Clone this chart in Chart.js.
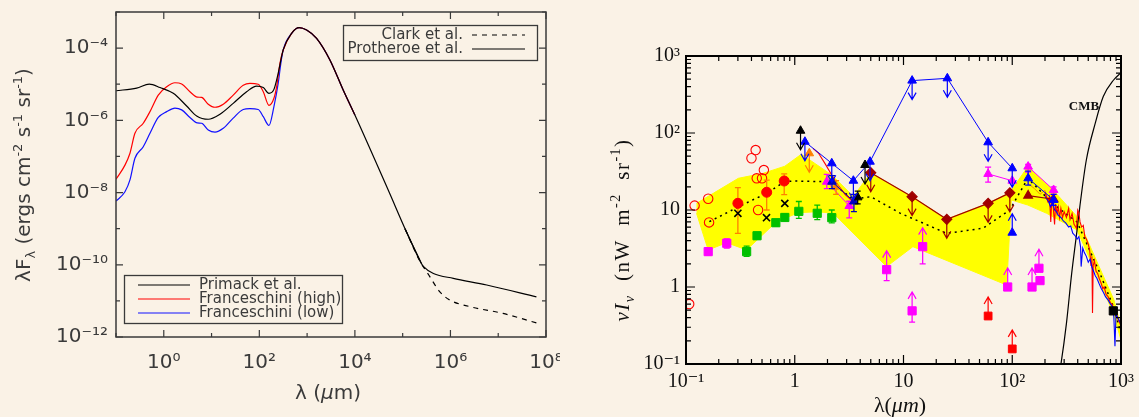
<!DOCTYPE html>
<html><head><meta charset="utf-8">
<script src="https://cdn.jsdelivr.net/npm/chart.js@4.4.1/dist/chart.umd.min.js"></script>
<style>
html,body{margin:0;padding:0;background:#FAF2E6;}
#wrap{position:relative;width:1139px;height:417px;overflow:hidden;background:#FAF2E6;}
#c1{position:absolute;left:0;top:0;}
#c2{position:absolute;left:560px;top:0;}
</style></head><body>
<div id="wrap"><canvas id="c1" width="560" height="417"></canvas><canvas id="c2" width="579" height="417"></canvas></div>
<script>
// ================= LEFT PANEL DATA =================
const leftXTicks = [0.1,1,10,100,1e3,1e4,1e5,1e6,1e7,1e8];
const leftYTicks = [1e-12,1e-11,1e-10,1e-9,1e-8,1e-7,1e-6,1e-5,1e-4,1e-3];

const primackLam = [0.1,0.271,0.498,0.834,1.58,3.01,4.88,8.53,15.0,28.4,54.2,87.9,121,159,202,248,316,474,684,977,1580,3000,5690,1e4,5.25e4,1.12e5,2.45e5];
const primackVal = [6.6e-6,7.8e-6,1.0e-5,8.1e-6,5.6e-6,2.5e-6,1.32e-6,1.07e-6,1.48e-6,2.95e-6,6.2e-6,8.9e-6,8.1e-6,5.6e-6,7.2e-6,2.0e-5,8.9e-5,2.57e-4,3.7e-4,3.16e-4,1.86e-4,4.7e-5,6.9e-6,1.4e-6,1.0e-8,1.0e-9,1.1e-10];

const fraHighLam = [0.1,0.154,0.196,0.249,0.372,0.514,0.767,1.15,1.71,2.37,3.53,5.02,6.21,8.53,11.8,17.6,28.4,46,63.5,94.8,121,159,202,230,270,316,474,684,977,1580,3000,5690,1e4];
const fraHighVal = [2.34e-8,5.75e-8,1.23e-7,4.37e-7,8.3e-7,1.74e-6,5.0e-6,8.5e-6,1.1e-5,1.02e-5,6.2e-6,4.4e-6,4.3e-6,2.8e-6,2.3e-6,2.8e-6,5.0e-6,9.3e-6,1.05e-5,1.0e-5,6.2e-6,2.6e-6,4.1e-6,8.5e-6,3.8e-5,8.9e-5,2.57e-4,3.7e-4,3.16e-4,1.86e-4,4.7e-5,6.9e-6,1.4e-6];

const fraLowLam = [0.1,0.154,0.196,0.249,0.372,0.514,0.767,1.15,1.71,2.37,3.53,5.02,6.21,8.53,11.8,17.6,28.4,46,63.5,94.8,121,159,202,248,282,316,474,684,977,1580,3000,5690,1e4];
const fraLowVal = [5.8e-9,1.05e-8,2.24e-8,8.9e-8,1.86e-7,4.37e-7,1.2e-6,1.74e-6,2.19e-6,1.95e-6,1.2e-6,8.5e-7,8.3e-7,5.4e-7,4.7e-7,6.0e-7,1.15e-6,2.0e-6,2.1e-6,2.0e-6,1.26e-6,7.2e-7,2.4e-6,1.05e-5,3.8e-5,8.9e-5,2.57e-4,3.7e-4,3.16e-4,1.86e-4,4.7e-5,6.9e-6,1.4e-6];

const protheroeLam = [1.12e5,2.45e5,2.7e5,4.4e5,1.15e6,5.75e6,6.3e7];
const protheroeVal = [1.0e-9,1.1e-10,9.0e-11,5.75e-11,4.2e-11,2.75e-11,1.29e-11];
const clarkLam = [1.12e5,2.2e5,3.7e5,6.0e5,9.8e5,2.6e6,1.26e7,6.3e7];
const clarkVal = [1.0e-9,1.4e-10,4.7e-11,1.78e-11,1.05e-11,6.9e-12,4.5e-12,2.45e-12];

// ================= RIGHT PANEL DATA =================
const rightXTicks = [0.1,1,10,100,1000];
const rightYTicks = [0.1,1,10,100,1000];

const bandUpLam = [0.125,0.303,0.514,0.81,1.15,2.19,3.46,5.0,12,25,60,95,139,237,394,629,861,1000];
const bandUpVal = [12.2,25.8,30,37,53,28.5,15,30.5,14.9,7.6,12.2,16.8,36.6,18.2,8.2,1.84,0.68,0.305];
const bandLoLam = [0.125,0.16,0.237,0.361,0.68,1.08,1.59,2.26,7.0,12.2,89,98,139,207,394,629,861,1000];
const bandLoVal = [9.06,3.03,3.76,3.03,7.05,9.2,9.5,9.1,1.84,3.34,1.06,13.5,11.6,9.06,5.5,1.23,0.43,0.205];

const modelLam = [0.164,0.303,0.552,0.81,0.97,2.1,3.46,5.0,9.3,25,54,95,139,237,394,629,861,1000];
const modelVal = [7.05,11.0,16.5,23.3,23.8,23.3,13.8,14.9,9.1,4.97,5.8,10,25.8,12,7,1.6,0.53,0.25];

const openCircLam = [0.107,0.12,0.16,0.163,0.40,0.437,0.447,0.46,0.50,0.52];
const openCircVal = [0.6,11.4,14.0,6.9,47,60,25.8,10,25.8,33];

const redDotLam = [0.30,0.552,0.80];
const redDotVal = [12.2,17,23.8];
const redDotLo = [4.97,10,15.8];
const redDotHi = [19.5,24.5,29.4];

const crossLam = [0.30,0.55,0.81];
const crossVal = [9.06,7.95,12.2];

const greenLam = [0.361,0.45,0.67,0.81,1.09,1.61,2.19];
const greenVal = [2.88,4.63,6.84,8.0,9.6,9.06,7.95];
const greenLo = [2.5,4.2,6.2,7.3,7.8,7.5,6.8];
const greenHi = [3.4,5.1,7.5,8.9,12.9,11.6,10.0];

const magSqLam = [0.16,0.237,180];
const magSqVal = [2.88,3.7,1.21];
const magSqLo = [2.6,3.2,null];
const magSqHi = [3.2,4.2,null];

const magLimLam = [7.0,12.0,15.0,90.8,152,176];
const magLimVal = [1.68,0.49,3.34,1.0,1.0,1.75];
const magLimLo = [1.21,0.35,2.0,null,null,null];

const redSqLam = [60,100];
const redSqVal = [0.42,0.157];

const blackSqLam = [850];
const blackSqVal = [0.49];

const blueLimLam = [1.24,2.19,3.46,4.92,12.0,25.3,60,100];
const blueLimVal = [77,40.4,24,42.4,479,513,75.7,34.8];

const blueNirLam = [2.2,3.5];
const blueNirVal = [23.3,12.9];
const blueNirLo = [19,9.5];
const blueNirHi = [28,16];

const blueFirLam = [140,240];
const blueFirVal = [25.8,13.5];
const blueFirLo = [21,11.5];
const blueFirHi = [32,16];

const blueLowLam = [100];
const blueLowVal = [5.07];

const magTriNirLam = [1.97,3.17];
const magTriNirVal = [23.3,11.3];
const magTriNirLo = [19,7.9];
const magTriNirHi = [29,13];

const magTriMidLam = [60,100];
const magTriMidVal = [29.4,24];
const magTriMidLo = [23,null];
const magTriMidHi = [36,null];

const magTriFirLam = [140,240];
const magTriFirVal = [36.6,18.2];
const magTriFirLo = [31,16];
const magTriFirHi = [39,20];

const brownLam = [5.0,12,25,60,95];
const brownVal = [30.5,14.9,7.57,12.2,16.7];
const brownTriLam = [140,240];
const brownTriVal = [15.4,13.8];

const blackLimLam = [1.13,4.43];
const blackLimVal = [107,38.4];
const blackTriLam = [3.79];
const blackTriVal = [14.6];
const blackTriLo = [12];
const blackTriHi = [17.6];

const orangeLimLam = [1.36];
const orangeLimVal = [54.5];
const orangeTriLam = [2.4];
const orangeTriVal = [20.1];
const orangeTriLo = [16];
const orangeTriHi = [24];

const redLineLam = [1.47,1.65,1.9,2.2,2.5,2.9,3.5];
const redLineVal = [63,55,40,28,21,16,12.5];

const firasRedLam = [200,212,220,226,231,238,245,250,258,265,272,280,290,300,315,330,340,355,370,390,400,410,420,435,450,465,480,500,515,530,540,547,555,570,590,610,630,660,680,700,730,760,800,830,860,900,950,1000];
const firasRedVal = [17,13,15,7,14,11,6.5,12,9,11,8,10.5,8,9.5,8,10.5,7.5,9,6.5,5.8,10,9.2,7,6,6.3,4.5,4.2,3.6,3.0,1.9,2.5,0.46,1.9,2.2,1.6,1.5,1.3,1.1,0.95,1.0,0.8,0.75,0.62,0.6,0.5,0.45,0.37,0.31];
const firasBlueLam = [200,215,225,235,245,255,265,280,295,310,330,345,360,380,395,410,425,430,445,460,480,500,520,540,560,580,600,630,660,690,720,760,800,840,860,880,900,950,1000];
const firasBlueVal = [15,13,11,12.5,10,9.5,8.5,8,7.2,6.8,6,6.2,5,4.6,4.2,4.5,3.3,1.84,3.2,2.8,2.5,2.1,2.3,1.8,1.6,1.4,1.3,1.1,0.95,0.85,0.75,0.68,0.6,0.55,0.4,0.17,0.45,0.38,0.33];
const firasOrangeLam = [140,160,180,200,215,230];
const firasOrangeVal = [22,19,16,18,13,15];

const cmbLam = [268,281,315,352,391,418,480,580,687,855,1000];
const cmbVal = [0.07,0.102,0.337,1.5,4.97,11,44.6,134,297,488,607];

// ================= HELPERS =================
const BG = '#FAF2E6';
const FAM_L = '"DejaVu Sans", sans-serif';
const FAM_R = '"Liberation Serif", "DejaVu Serif", serif';
const SUP = {'-':'\u207B','0':'\u2070','1':'\u00B9','2':'\u00B2','3':'\u00B3','4':'\u2074','5':'\u2075','6':'\u2076','7':'\u2077','8':'\u2078','9':'\u2079'};
function supStr(n){ return String(n).split('').map(c=>SUP[c]).join(''); }
function zip(a,b){ return a.map((v,i)=>({x:v,y:b[i]})); }
function expOf(v){ return Math.round(Math.log10(v)); }

function segFont(s, size, fam){
  const sz = (s.sub||s.sup) ? Math.round(size*0.66) : size;
  return (s.it?'italic ':'') + (s.b?'bold ':'') + sz + 'px ' + fam;
}
function richWidth(ctx, segs, size, fam){
  let w = 0; for (const s of segs){ ctx.font = segFont(s,size,fam); w += ctx.measureText(s.t).width; } return w;
}
function drawRich(ctx, segs, x, y, size, fam, align){
  const w = richWidth(ctx, segs, size, fam);
  let cx = align==='center' ? x - w/2 : (align==='right' ? x - w : x);
  ctx.textAlign = 'left'; ctx.textBaseline = 'alphabetic';
  for (const s of segs){
    ctx.font = segFont(s,size,fam);
    const dy = s.sup ? -size*0.42 : (s.sub ? size*0.24 : 0);
    ctx.fillText(s.t, cx, y+dy);
    cx += ctx.measureText(s.t).width;
  }
}

const framePlugin = {
  id: 'frame',
  afterDatasetsDraw(chart, args, o){
    const {ctx, chartArea: a} = chart; const sx = chart.scales.x, sy = chart.scales.y;
    ctx.save();
    ctx.strokeStyle = o.color; ctx.lineWidth = o.tickWidth; ctx.beginPath();
    const xt = (o.xMinor||[]).map(v=>[v,o.minorLen]).concat(sx.ticks.map(t=>[t.value, t.label ? o.majorLen : o.minorLen]));
    for (const [v,l] of xt){
      const p = sx.getPixelForValue(v); if (p < a.left-1 || p > a.right+1) continue;
      ctx.moveTo(p,a.bottom); ctx.lineTo(p,a.bottom-l); ctx.moveTo(p,a.top); ctx.lineTo(p,a.top+l);
    }
    const yt = (o.yMinor||[]).map(v=>[v,o.minorLen]).concat(sy.ticks.map(t=>[t.value, t.label ? o.majorLen : o.minorLen]));
    for (const [v,l] of yt){
      const p = sy.getPixelForValue(v); if (p < a.top-1 || p > a.bottom+1) continue;
      ctx.moveTo(a.left,p); ctx.lineTo(a.left+l,p); ctx.moveTo(a.right,p); ctx.lineTo(a.right-l,p);
    }
    ctx.stroke();
    ctx.lineWidth = o.width;
    ctx.strokeRect(a.left, a.top, a.right-a.left, a.bottom-a.top);
    ctx.restore();
  }
};

// error bars & limit arrows
const marksPlugin = {
  id: 'marks',
  beforeDatasetDraw(chart, args){
    const ds = chart.data.datasets[args.index]; const meta = args.meta;
    const ctx = chart.ctx; const sy = chart.scales.y;
    ctx.save();
    if (ds.errLo){
      ctx.strokeStyle = ds.errColor || ds.borderColor; ctx.lineWidth = 1.3; ctx.beginPath();
      meta.data.forEach((pt,i)=>{
        const lo = ds.errLo[i], hi = ds.errHi ? ds.errHi[i] : null;
        if (lo == null && hi == null) return;
        const ylo = lo == null ? pt.y : sy.getPixelForValue(lo);
        const yhi = hi == null ? pt.y : sy.getPixelForValue(hi);
        ctx.moveTo(pt.x, ylo); ctx.lineTo(pt.x, yhi);
        if (lo != null){ ctx.moveTo(pt.x-3, ylo); ctx.lineTo(pt.x+3, ylo); }
        if (hi != null){ ctx.moveTo(pt.x-3, yhi); ctx.lineTo(pt.x+3, yhi); }
      });
      ctx.stroke();
    }
    if (ds.arrow){
      const dir = ds.arrow === 'down' ? 1 : -1; const L = 19;
      ctx.strokeStyle = ds.arrowColor || ds.borderColor; ctx.lineWidth = 1.2; ctx.beginPath();
      meta.data.forEach(pt=>{
        const tip = pt.y + dir*L;
        ctx.moveTo(pt.x, pt.y); ctx.lineTo(pt.x, tip);
        ctx.moveTo(pt.x-4, tip-dir*7); ctx.lineTo(pt.x, tip); ctx.lineTo(pt.x+4, tip-dir*7);
      });
      ctx.stroke();
    }
    ctx.restore();
  }
};

Chart.defaults.animation = false;
Chart.defaults.responsive = false;
Chart.defaults.devicePixelRatio = 1;
Chart.defaults.plugins.legend.display = false;
Chart.defaults.plugins.tooltip.enabled = false;

function withOrder(list){ list.forEach((d,i)=>{ d.order = -i; }); return list; }

// ================= LEFT CHART =================
const leftAnnot = {
  id: 'leftAnnot',
  afterDraw(chart){
    const ctx = chart.ctx; ctx.save();
    ctx.fillStyle = '#3a3a3a';
    // y title
    ctx.save(); ctx.translate(30, 175); ctx.rotate(-Math.PI/2);
    drawRich(ctx, [{t:'\u03BBF'},{t:'\u03BB',sub:1},{t:' (ergs cm'},{t:'-2',sup:1},{t:' s'},{t:'-1',sup:1},{t:' sr'},{t:'-1',sup:1},{t:')'}], 0, 0, 20, FAM_L, 'center');
    ctx.restore();
    // x title
    drawRich(ctx, [{t:'\u03BB ('},{t:'\u03BC',it:1},{t:'m)'}], 328, 399, 20, FAM_L, 'center');
    // legends
    const ds = chart.data.datasets;
    const byLabel = l => ds.find(d=>d.label===l);
    ctx.strokeStyle = '#3a3a3a'; ctx.lineWidth = 1.3;
    ctx.strokeRect(343.5, 25.5, 194, 35);
    ctx.strokeRect(124.5, 275.5, 218, 48);
    ctx.font = '15px ' + FAM_L; ctx.textBaseline = 'middle';
    ctx.textAlign = 'right';
    [['Clark et al.',35],['Protheroe et al.',49]].forEach(([lab,y])=>{
      const d = byLabel(lab);
      ctx.fillText(lab, 463, y);
      ctx.save(); ctx.strokeStyle = d.borderColor; ctx.lineWidth = 1.2; ctx.setLineDash(d.borderDash||[]);
      ctx.beginPath(); ctx.moveTo(472,y); ctx.lineTo(525,y); ctx.stroke(); ctx.restore();
    });
    ctx.textAlign = 'left';
    [['Primack et al.',285],['Franceschini (high)',299],['Franceschini (low)',313]].forEach(([lab,y])=>{
      const d = byLabel(lab);
      ctx.fillText(lab, 199, y);
      ctx.save(); ctx.strokeStyle = d.borderColor; ctx.lineWidth = 1.2;
      ctx.beginPath(); ctx.moveTo(138,y); ctx.lineTo(190,y); ctx.stroke(); ctx.restore();
    });
    ctx.restore();
  }
};

const lineDs = (label, lam, val, color, extra) => Object.assign({
  label, data: zip(lam, val), showLine: true, borderColor: color, backgroundColor: color,
  borderWidth: 1.2, pointRadius: 0, cubicInterpolationMode: 'monotone'
}, extra||{});

new Chart(document.getElementById('c1'), {
  type: 'scatter',
  data: { datasets: withOrder([
    lineDs('Franceschini (low)', fraLowLam, fraLowVal, '#1010FF'),
    lineDs('Franceschini (high)', fraHighLam, fraHighVal, '#FF0000'),
    lineDs('Clark et al.', clarkLam, clarkVal, '#000000', {borderDash:[5,5]}),
    lineDs('Protheroe et al.', protheroeLam, protheroeVal, '#000000'),
    lineDs('Primack et al.', primackLam, primackVal, '#000000')
  ]) },
  options: {
    layout: { padding: { left: 0, right: 14, top: 12, bottom: 0 } },
    scales: {
      x: { type: 'logarithmic', position: 'bottom', min: 0.1, max: 1e8,
        afterBuildTicks: s => { s.ticks = leftXTicks.map(v=>({value:v})); },
        afterFit: s => { s.height = 80; s.paddingLeft = 0; s.paddingRight = 0; },
        grid: { display: false, drawTicks: false }, border: { display: false },
        ticks: { autoSkip: false, maxRotation: 0, padding: 14, color: '#3a3a3a', font: { family: FAM_L, size: 20 },
          callback: v => { const e = expOf(v); return e % 2 === 0 ? '10' + supStr(e) : ''; } } },
      y: { type: 'logarithmic', position: 'left', min: 1e-12, max: 1e-3,
        afterBuildTicks: s => { s.ticks = leftYTicks.map(v=>({value:v})); },
        afterFit: s => { s.width = 116; s.paddingTop = 0; s.paddingBottom = 0; },
        grid: { display: false, drawTicks: false }, border: { display: false },
        ticks: { autoSkip: false, padding: 8, color: '#3a3a3a', font: { family: FAM_L, size: 20 },
          callback: v => { const e = expOf(v); return e % 2 === 0 ? '10' + supStr(e) : ''; } } }
    },
    plugins: { frame: { color: '#3a3a3a', width: 1.5, tickWidth: 1.2, majorLen: 7, minorLen: 4 } }
  },
  plugins: [framePlugin, leftAnnot]
});

// ================= RIGHT CHART =================
const rightXMinor = [], rightYMinor = [];
rightXTicks.slice(0,-1).forEach(d=>{ for (let k=2;k<=9;k++) rightXMinor.push(k*d); });
rightYTicks.slice(0,-1).forEach(d=>{ for (let k=2;k<=9;k++) rightYMinor.push(k*d); });

const rightAnnot = {
  id: 'rightAnnot',
  afterDraw(chart){
    const ctx = chart.ctx; ctx.save(); ctx.fillStyle = '#111';
    ctx.save(); ctx.translate(69, 230); ctx.rotate(-Math.PI/2);
    ctx.letterSpacing = '1.5px';
    drawRich(ctx, [{t:'\u03BD',it:1},{t:'I',it:1},{t:'\u03BD',it:1,sub:1},{t:'  (nW  m'},{t:'-2',sup:1},{t:'  sr'},{t:'-1',sup:1},{t:')'}], 0, 0, 21, FAM_R, 'center');
    ctx.restore();
    ctx.letterSpacing = '0px';
    drawRich(ctx, [{t:'\u03BB('},{t:'\u03BC',it:1},{t:'m',it:1},{t:')'}], 340, 412, 22, FAM_R, 'center');
    ctx.font = 'bold 13px ' + FAM_R; ctx.textAlign = 'center'; ctx.textBaseline = 'middle';
    ctx.fillText('CMB', 524, 107);
    ctx.restore();
  }
};

const pts = (lam, val, style, color, extra) => Object.assign({
  data: zip(lam, val), showLine: false, pointStyle: style, pointRadius: 5,
  borderColor: color, backgroundColor: color, pointBorderWidth: 1
}, extra||{});
const ln = (lam, val, color, width, extra) => Object.assign({
  data: zip(lam, val), showLine: true, borderColor: color, backgroundColor: color, borderWidth: width, pointRadius: 0
}, extra||{});

const polygon = zip(bandUpLam, bandUpVal).concat(zip(bandLoLam, bandLoVal).reverse());

new Chart(document.getElementById('c2'), {
  type: 'scatter',
  data: { datasets: withOrder([
    { data: polygon, showLine: true, fill: 'shape', backgroundColor: '#FFFF00', borderColor: '#FFFF00', borderWidth: 1, pointRadius: 0 },
    ln(cmbLam, cmbVal, '#000000', 1.2, {cubicInterpolationMode:'monotone'}),
    ln(modelLam, modelVal, '#000000', 1.5, {borderDash:[2,4]}),
    ln(firasOrangeLam, firasOrangeVal, '#FF8C00', 1),
    ln(firasRedLam, firasRedVal, '#FF0000', 1.1),
    ln(firasBlueLam, firasBlueVal, '#0000FF', 1.1),
    ln(redLineLam, redLineVal, '#FF0000', 1.1),
    pts(openCircLam, openCircVal, 'circle', '#FF0000', {backgroundColor:'rgba(0,0,0,0)', pointRadius:4.7, pointBorderWidth:1.1}),
    pts(greenLam, greenVal, 'rect', '#00C000', {pointRadius:5.8, errLo:greenLo, errHi:greenHi}),
    pts(magSqLam, magSqVal, 'rect', '#FF00FF', {pointRadius:5.8, errLo:magSqLo, errHi:magSqHi}),
    pts(magLimLam, magLimVal, 'rect', '#FF00FF', {pointRadius:5.8, errLo:magLimLo, arrow:'up'}),
    pts(redSqLam, redSqVal, 'rect', '#FF0000', {pointRadius:5.5, arrow:'up'}),
    pts(blackSqLam, blackSqVal, 'rect', '#000000', {pointRadius:5.8}),
    pts(redDotLam, redDotVal, 'circle', '#FF0000', {pointRadius:5, errLo:redDotLo, errHi:redDotHi, errColor:'#FF8000'}),
    pts(crossLam, crossVal, 'crossRot', '#000000', {pointRadius:5, pointBorderWidth:1.6}),
    ln(brownLam, brownVal, '#A00000', 1.2, {pointStyle:'rectRot', pointRadius:5, arrow:'down'}),
    ln(brownTriLam, brownTriVal, '#A00000', 1.2, {pointStyle:'triangle', pointRadius:5}),
    ln(magTriNirLam, magTriNirVal, '#FF00FF', 1, {pointStyle:'triangle', pointRadius:5, errLo:magTriNirLo, errHi:magTriNirHi}),
    ln(magTriMidLam, magTriMidVal, '#FF00FF', 1, {pointStyle:'triangle', pointRadius:5, errLo:magTriMidLo, errHi:magTriMidHi}),
    ln(magTriFirLam, magTriFirVal, '#FF00FF', 1, {pointStyle:'triangle', pointRadius:5, errLo:magTriFirLo, errHi:magTriFirHi}),
    pts(orangeTriLam, orangeTriVal, 'triangle', '#FF8000', {errLo:orangeTriLo, errHi:orangeTriHi}),
    pts(orangeLimLam, orangeLimVal, 'triangle', '#FF8000', {arrow:'down'}),
    ln(blueNirLam, blueNirVal, '#0000C0', 1, {pointStyle:'triangle', pointRadius:5, errLo:blueNirLo, errHi:blueNirHi}),
    ln(blueFirLam, blueFirVal, '#0000FF', 1, {pointStyle:'triangle', pointRadius:5, errLo:blueFirLo, errHi:blueFirHi}),
    pts(blueLowLam, blueLowVal, 'triangle', '#0000FF', {arrow:'up'}),
    pts(blackTriLam, blackTriVal, 'triangle', '#000000', {errLo:blackTriLo, errHi:blackTriHi}),
    ln(blueLimLam, blueLimVal, '#0000FF', 1, {pointStyle:'triangle', pointRadius:5, arrow:'down'}),
    pts(blackLimLam, blackLimVal, 'triangle', '#000000', {arrow:'down'})
  ]) },
  options: {
    layout: { padding: { left: 0, right: 18, top: 56, bottom: 0 } },
    scales: {
      x: { type: 'logarithmic', position: 'bottom', min: 0.1, max: 1000,
        afterBuildTicks: s => { s.ticks = rightXTicks.map(v=>({value:v})); },
        afterFit: s => { s.height = 53; s.paddingLeft = 0; s.paddingRight = 0; },
        grid: { display: false, drawTicks: false }, border: { display: false },
        ticks: { autoSkip: false, maxRotation: 0, padding: 6, color: '#111', font: { family: FAM_R, size: 20 },
          callback: v => { const e = expOf(v); return e === 0 ? '1' : (e === 1 ? '10' : '10' + supStr(e)); } } },
      y: { type: 'logarithmic', position: 'left', min: 0.1, max: 1000,
        afterBuildTicks: s => { s.ticks = rightYTicks.map(v=>({value:v})); },
        afterFit: s => { s.width = 126; s.paddingTop = 0; s.paddingBottom = 0; },
        grid: { display: false, drawTicks: false }, border: { display: false },
        ticks: { autoSkip: false, padding: 6, color: '#111', font: { family: FAM_R, size: 20 },
          callback: v => { const e = expOf(v); return e === 0 ? '1' : (e === 1 ? '10' : '10' + supStr(e)); } } }
    },
    plugins: { frame: { color: '#000', width: 2, tickWidth: 1.2, majorLen: 9, minorLen: 5, xMinor: rightXMinor, yMinor: rightYMinor } }
  },
  plugins: [framePlugin, marksPlugin, rightAnnot]
});
</script>
</body></html>
